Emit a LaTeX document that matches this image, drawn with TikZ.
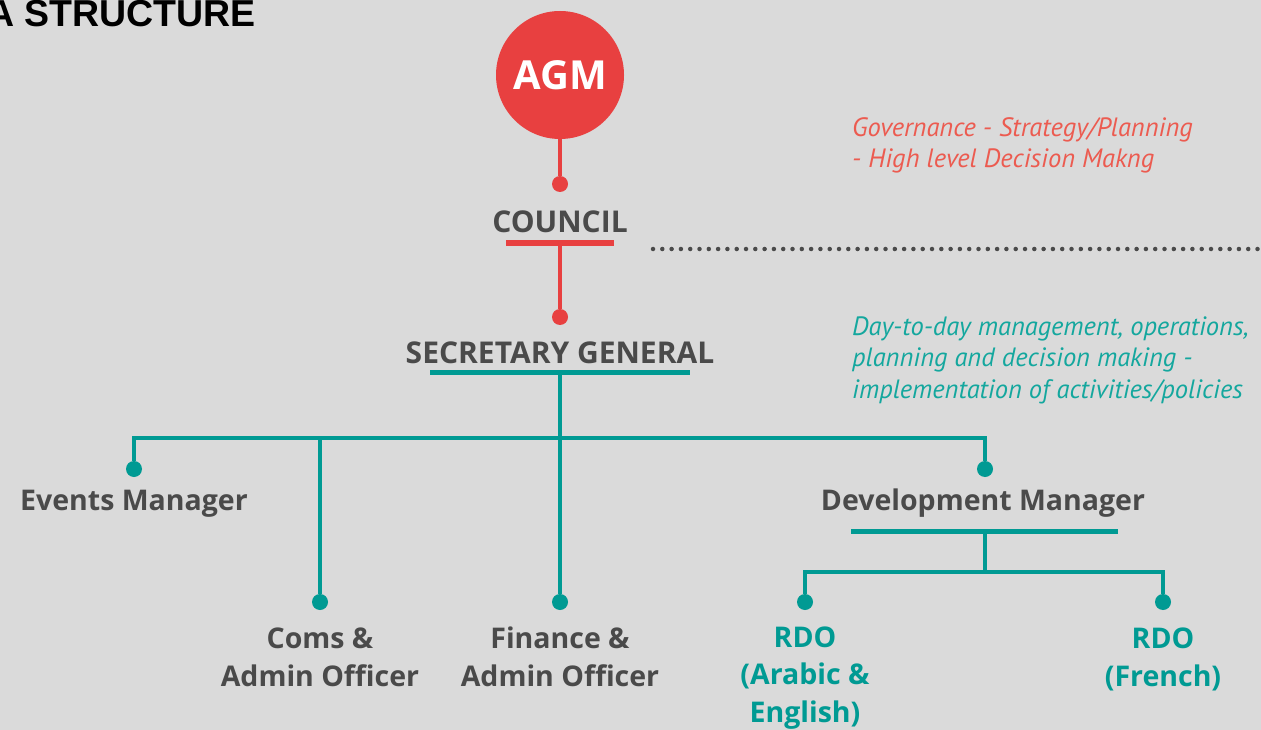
\documentclass[tikz,border=0pt]{standalone}
\usepackage{fontspec}
\setmainfont{Open Sans}
\newfontfamily\titlefont{Liberation Sans}
\newfontfamily\notefont{PT Sans}
\definecolor{bg}{HTML}{DADADA}
\definecolor{agmred}{HTML}{E84040}
\definecolor{teal}{HTML}{009A93}
\definecolor{txtgray}{HTML}{4A4A4A}
\definecolor{notered}{HTML}{EC5B50}
\definecolor{noteteal}{HTML}{14A79E}
\begin{document}
\begin{tikzpicture}[x=1pt,y=-1pt,
  lbl/.style={inner sep=0pt, text=txtgray, font=\fontsize{28.5}{37.5}\selectfont\bfseries, align=center},
  caplbl/.style={lbl, font=\fontsize{30}{37.5}\selectfont\bfseries},
  tlbl/.style={lbl, text=teal},
  note/.style={inner sep=0pt, align=left, font=\notefont\itshape\fontsize{26.5}{31.5}\selectfont},
  rdot/.style={circle, fill=agmred, inner sep=0pt, minimum size=16pt},
  tdot/.style={circle, fill=teal, inner sep=0pt, minimum size=16pt},
  rline/.style={draw=agmred, line width=3.5pt},
  tline/.style={draw=teal, line width=4pt},
  rbar/.style={draw=agmred, line width=6pt},
  tbar/.style={draw=teal, line width=5pt}]
\fill[bg] (0,0) rectangle (1261,730);
\useasboundingbox (0,0) rectangle (1261,730);

% title
\node[anchor=base east, inner sep=0pt, font=\titlefont\bfseries\fontsize{37.5}{40}\selectfont] (title) at (256,27) {A STRUCTURE};

% AGM
\node[circle, fill=agmred, minimum size=128pt, inner sep=0pt, text=white, font=\fontsize{40}{40}\selectfont\bfseries] (agm) at (560,75) {AGM};
\node[rdot] (dcouncil) at (560,184) {};
\draw[rline] (agm.south) -- (dcouncil);

% council
\node[caplbl, anchor=base] (council) at (560,233) {COUNCIL};
\coordinate (cbarL) at (506,243);
\coordinate (cbarR) at (614,243);
\coordinate (cbarM) at (560,243);
\draw[rbar] (cbarL) -- (cbarR);
\node[rdot] (dsg) at (560,317) {};
\draw[rline] (cbarM) -- (dsg);

% dotted separator
\coordinate (sepL) at (653,249);
\coordinate (sepR) at (1265,249);
\draw[draw=txtgray, line width=4.5pt, line cap=round, dash pattern=on 0pt off 9.3pt] (sepL) -- (sepR);

% notes (base = baseline of last line)
\node[note, text=notered, anchor=base west] (gov) at (852,168) {Governance - Strategy/Planning\\- High level Decision Makng};
\node[note, text=noteteal, anchor=base west] (day) at (852,398) {Day-to-day management, operations,\\planning and decision making -\\implementation of activities/policies};

% secretary general
\node[caplbl, anchor=base] (sg) at (560,363) {SECRETARY GENERAL};
\coordinate (sbarL) at (430,372);
\coordinate (sbarR) at (690,372);
\coordinate (sbarM) at (560,372);
\draw[tbar] (sbarL) -- (sbarR);

% bus
\coordinate (busL) at (134,438);
\coordinate (busR) at (985,438);
\coordinate (busC) at (320,438);
\node[tdot] (devents) at (134,469) {};
\node[tdot] (ddev) at (985,469) {};
\node[tdot] (dcoms) at (320,602) {};
\node[tdot] (dfin) at (560,602) {};
\draw[tline] (devents) -- (busL) -- (busR) -- (ddev);
\draw[tline] (busC) -- (dcoms);
\draw[tline] (sbarM) -- (dfin);

% level 2 labels
\node[lbl, anchor=base] (events) at (134,510) {Events Manager};
\node[lbl, anchor=base] (dev) at (983,510) {Development Manager};
\node[lbl, anchor=base] (coms) at (320,686) {Coms \&\\Admin Officer};
\node[lbl, anchor=base] (fin) at (560,686) {Finance \&\\Admin Officer};

% development branch
\coordinate (dbarL) at (851,531);
\coordinate (dbarR) at (1118,531);
\coordinate (dbarM) at (985,531);
\draw[tbar] (dbarL) -- (dbarR);
\coordinate (dbus) at (985,572);
\coordinate (dbusL) at (805,572);
\coordinate (dbusR) at (1163,572);
\node[tdot] (drdo1) at (805,602) {};
\node[tdot] (drdo2) at (1163,602) {};
\draw[tline] (dbarM) -- (dbus);
\draw[tline] (drdo1) -- (dbusL) -- (dbusR) -- (drdo2);
\node[tlbl, anchor=base] (rdo1) at (805,722) {RDO\\(Arabic \&\\English)};
\node[tlbl, anchor=base] (rdo2) at (1163,686) {RDO\\(French)};
\end{tikzpicture}
\end{document}
